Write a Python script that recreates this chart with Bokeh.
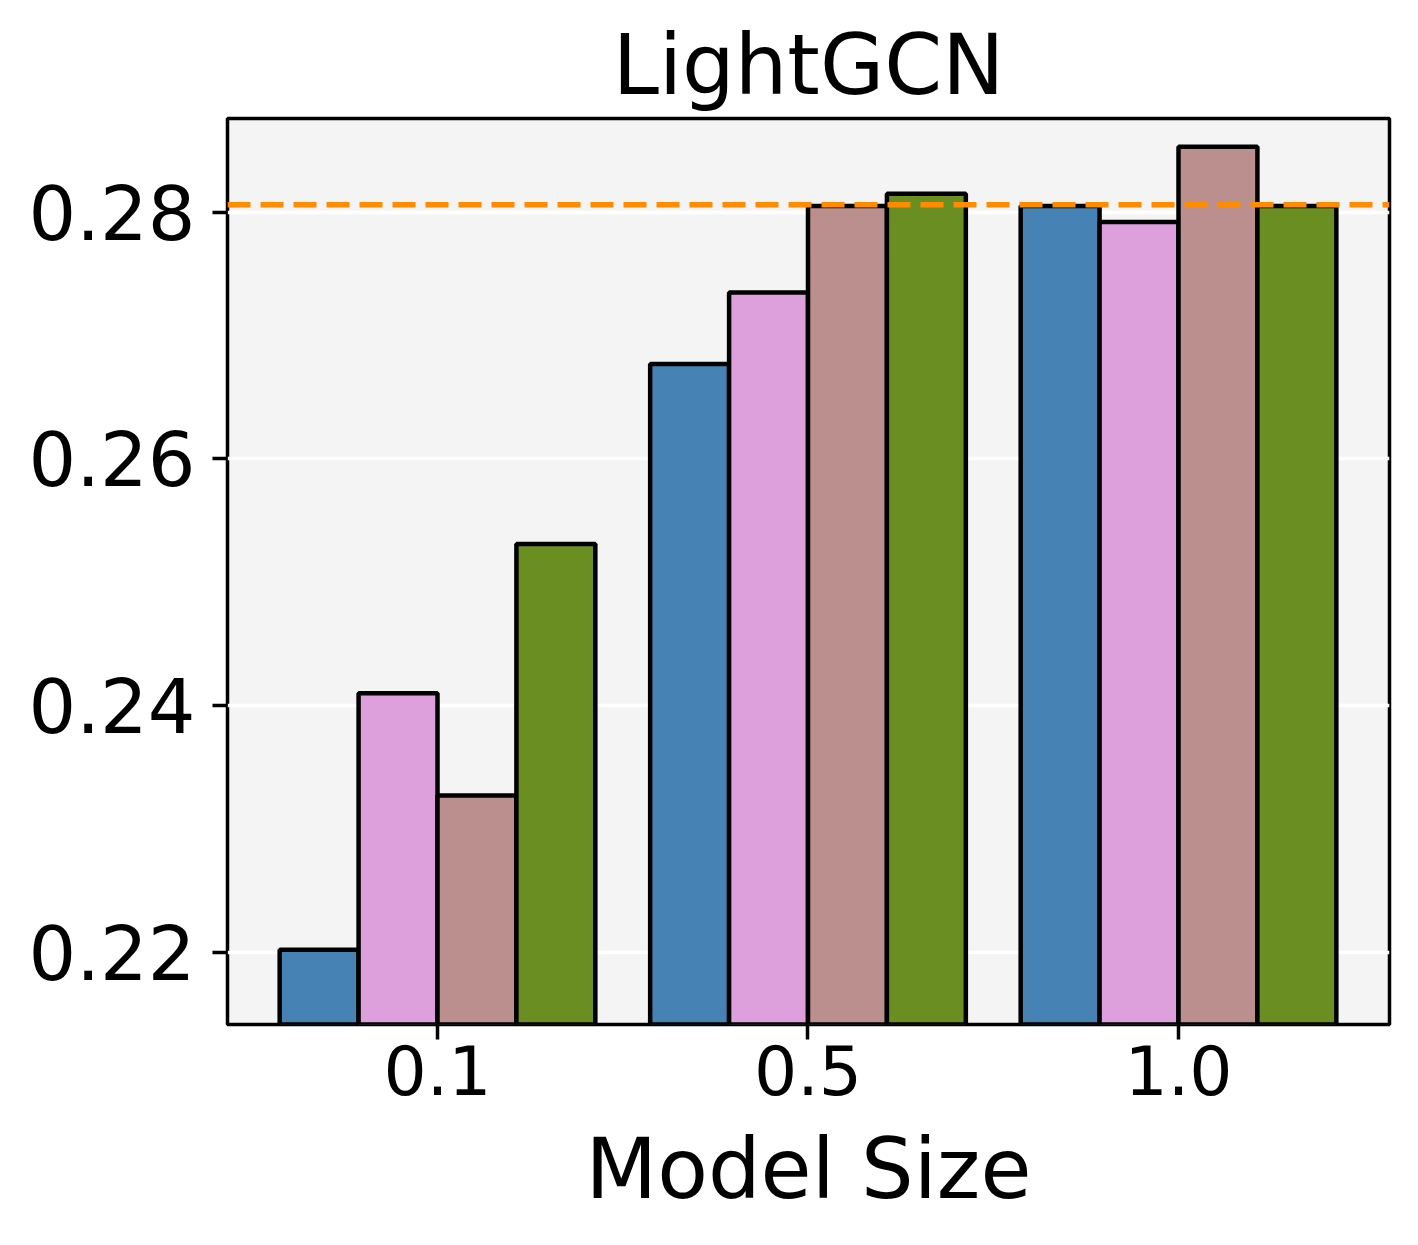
from bokeh.plotting import figure
from bokeh.models import Range1d, FixedTicker, PrintfTickFormatter, Span, ColumnDataSource
from bokeh.transform import dodge
from bokeh.embed import file_html
from bokeh.resources import INLINE

# ---- data ----
model_sizes = ["0.1", "0.5", "1.0"]
group_pos = [0, 1, 2]
series_a = [0.2202, 0.2677, 0.2805]   # steelblue
series_b = [0.2410, 0.2735, 0.2792]   # plum
series_c = [0.2327, 0.2805, 0.2853]   # rosybrown
series_d = [0.2531, 0.2815, 0.2805]   # olivedrab
baseline = 0.2806
y_ticks = [0.22, 0.24, 0.26, 0.28]

colors = ["#4682B4", "#DDA0DD", "#BC8F8F", "#6B8E23"]
bar_w = 0.213
offsets = [-1.5 * bar_w, -0.5 * bar_w, 0.5 * bar_w, 1.5 * bar_w]

FONT = "DejaVu Sans"

p = figure(width=1410, height=1244, output_backend="svg", toolbar_location=None,
           x_range=Range1d(-0.5668, 2.5695), y_range=Range1d(0.21414, 0.2876),
           min_border_left=227, min_border_right=21, min_border_top=118, min_border_bottom=220)

p.background_fill_color = "#f4f4f4"
p.border_fill_color = "white"
p.outline_line_color = "black"
p.outline_line_width = 3.5

src = ColumnDataSource(dict(x=group_pos, a=series_a, b=series_b, c=series_c, d=series_d))
for col, off, colr in zip(["a", "b", "c", "d"], offsets, colors):
    p.vbar(x=dodge("x", off, range=p.x_range), top=col, bottom=0, width=bar_w, source=src,
           fill_color=colr, line_color="black", line_width=4.5)

p.add_layout(Span(location=baseline, dimension="width", line_color="#FF8C00",
                  line_width=5.5, line_dash="23 10"))

# grid
p.xgrid.grid_line_color = None
p.ygrid.grid_line_color = "white"
p.ygrid.grid_line_width = 3.5
p.ygrid.ticker = FixedTicker(ticks=y_ticks)

# axes
p.xaxis.ticker = FixedTicker(ticks=group_pos)
p.xaxis.major_label_overrides = {g: s for g, s in zip(group_pos, model_sizes)}
p.yaxis.ticker = FixedTicker(ticks=y_ticks)
p.yaxis.formatter = PrintfTickFormatter(format="%.2f")

for ax in (p.xaxis[0], p.yaxis[0]):
    ax.axis_line_color = None
    ax.major_tick_line_color = "black"
    ax.major_tick_line_width = 3.5
    ax.major_tick_out = 15
    ax.major_tick_in = 0
    ax.minor_tick_line_color = None
    ax.major_label_text_font = FONT
    ax.major_label_text_color = "black"

p.yaxis.major_label_text_font_size = "75px"
p.yaxis.major_label_standoff = 17
p.xaxis.major_label_text_font_size = "68px"
p.xaxis.major_label_standoff = 5

p.xaxis.axis_label = "Model Size"
p.xaxis.axis_label_text_font = FONT
p.xaxis.axis_label_text_font_size = "83px"
p.xaxis.axis_label_text_font_style = "normal"
p.xaxis.axis_label_text_color = "black"
p.xaxis.axis_label_standoff = 23

p.title.text = "LightGCN"
p.title.text_font = FONT
p.title.text_font_size = "83px"
p.title.text_font_style = "normal"
p.title.text_color = "black"
p.title.align = "center"
p.title.standoff = 10

open("out.html", "w").write(file_html(p, INLINE))
